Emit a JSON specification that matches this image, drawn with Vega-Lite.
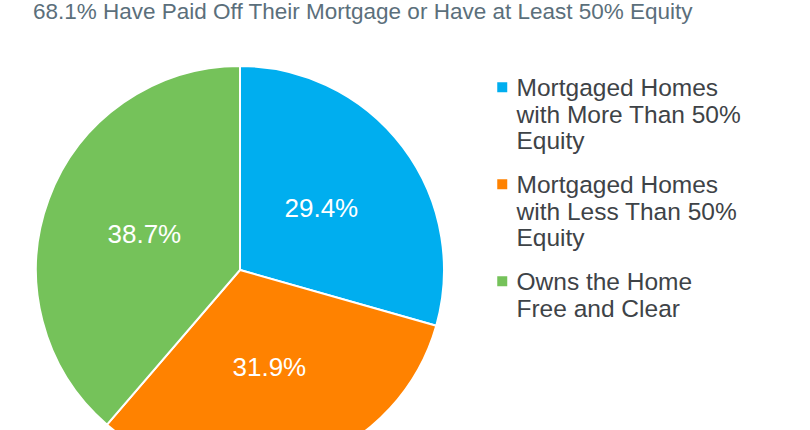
{
  "$schema": "https://vega.github.io/schema/vega-lite/v6.json",
  "description": "Share of homes by equity position, pie with multi-line legend.",
  "autosize": {"type": "none"},
  "width": 480,
  "height": 480,
  "padding": {"top": 30, "left": 0, "right": 330, "bottom": 0},
  "background": "white",
  "title": {
    "text": "68.1% Have Paid Off Their Mortgage or Have at Least 50% Equity",
    "anchor": "start",
    "frame": "group",
    "dx": 33,
    "dy": 23,
    "offset": 12,
    "baseline": "alphabetic",
    "font": "Liberation Sans",
    "fontSize": 22.5,
    "fontWeight": "normal",
    "color": "#5b6f7b"
  },
  "data": {
    "values": [
      {"group": "Mortgaged Homes with More Than 50% Equity", "share": 29.4, "label": "29.4%", "rank": 1},
      {"group": "Mortgaged Homes with Less Than 50% Equity", "share": 31.9, "label": "31.9%", "rank": 2},
      {"group": "Owns the Home Free and Clear", "share": 38.7, "label": "38.7%", "rank": 3}
    ]
  },
  "encoding": {
    "theta": {"field": "share", "type": "quantitative", "stack": true},
    "order": {"field": "rank", "type": "quantitative"}
  },
  "layer": [
    {
      "mark": {"type": "arc", "outerRadius": 204, "stroke": "white", "strokeWidth": 2},
      "encoding": {
        "color": {
          "field": "group",
          "type": "nominal",
          "scale": {
            "domain": [
              "Mortgaged Homes with More Than 50% Equity",
              "Mortgaged Homes with Less Than 50% Equity",
              "Owns the Home Free and Clear"
            ],
            "range": ["#00aeef", "#ff8200", "#75c25a"]
          },
          "legend": {
            "orient": "none",
            "legendX": 490,
            "legendY": 35,
            "title": null,
            "padding": 0,
            "labelFont": "Liberation Sans",
            "labelFontSize": 24.5,
            "labelColor": "#3e4347",
            "labelLimit": 320,
            "labelBaseline": "top",
            "labelLineHeight": 28,
            "labelOffset": 2,
            "symbolType": "M-1,1H1V3H-1Z",
            "symbolSize": 100,
            "symbolStrokeWidth": 0,
            "rowPadding": 8,
            "labelExpr": "datum.value == 'Mortgaged Homes with More Than 50% Equity' ? ['Mortgaged Homes', 'with More Than 50%', 'Equity'] : datum.value == 'Mortgaged Homes with Less Than 50% Equity' ? ['Mortgaged Homes', 'with Less Than 50%', 'Equity'] : ['Owns the Home', 'Free and Clear']"
          }
        }
      }
    },
    {
      "mark": {"type": "text", "radius": 102, "font": "Liberation Sans", "fontSize": 26, "fill": "white"},
      "encoding": {
        "text": {"field": "label", "type": "nominal"}
      }
    }
  ]
}
